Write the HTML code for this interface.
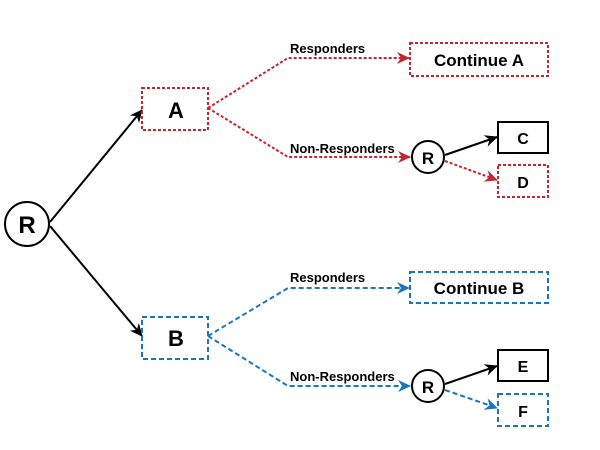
<!DOCTYPE html>
<html><head><style>html,body{margin:0;padding:0;background:#fff}svg{display:block}
text{font-family:"Liberation Sans",sans-serif;font-weight:bold;fill:#000}</style></head>
<body>
<svg width="600" height="450" viewBox="0 0 600 450">
<defs>
<marker id="ak" markerWidth="13" markerHeight="12" refX="12" refY="6" orient="auto" markerUnits="userSpaceOnUse"><path d="M0,0 L13,6 L0,12 L4,6 z" fill="#000"/></marker>
<marker id="ar" markerWidth="13" markerHeight="12" refX="12" refY="6" orient="auto" markerUnits="userSpaceOnUse"><path d="M0,0 L13,6 L0,12 L4,6 z" fill="#c1272d"/></marker>
<marker id="ab" markerWidth="13" markerHeight="12" refX="12" refY="6" orient="auto" markerUnits="userSpaceOnUse"><path d="M0,0 L13,6 L0,12 L4,6 z" fill="#1a75bb"/></marker>
</defs>
<circle cx="27" cy="224" r="22" fill="#fff" stroke="#000" stroke-width="2"/>
<text x="27" y="233" font-size="24" text-anchor="middle">R</text>
<line x1="50" y1="222" x2="142" y2="110" stroke="#000" stroke-width="2" marker-end="url(#ak)"/>
<line x1="50" y1="226" x2="142" y2="336" stroke="#000" stroke-width="2" marker-end="url(#ak)"/>

<g stroke="#c1272d" stroke-width="2" stroke-dasharray="3,2" fill="none">
<rect x="142" y="88" width="66" height="42"/>
<polyline points="208,108 288,58 409,58" marker-end="url(#ar)"/>
<polyline points="208,108 288,157 410,157" marker-end="url(#ar)"/>
<rect x="410" y="43" width="138" height="33"/>
<line x1="445" y1="161" x2="497" y2="180" marker-end="url(#ar)"/>
<rect x="498" y="165" width="50" height="32"/>
</g>
<text x="176" y="118" font-size="22" text-anchor="middle">A</text>
<text x="290" y="53" font-size="13">Responders</text>
<text x="290" y="153" font-size="13">Non-Responders</text>
<text x="479" y="66" font-size="17" text-anchor="middle">Continue A</text>
<circle cx="428" cy="157" r="16" fill="#fff" stroke="#000" stroke-width="2"/>
<text x="428" y="164" font-size="17" text-anchor="middle">R</text>
<line x1="445" y1="155" x2="497" y2="137" stroke="#000" stroke-width="2" marker-end="url(#ak)"/>
<rect x="498" y="122" width="50" height="31" fill="#fff" stroke="#000" stroke-width="2"/>
<text x="523" y="144" font-size="16" text-anchor="middle">C</text>
<text x="523" y="188" font-size="16" text-anchor="middle">D</text>

<g stroke="#1a75bb" stroke-width="2" stroke-dasharray="5,3" fill="none">
<rect x="142" y="317" width="66" height="42"/>
<polyline points="208,336 288,288 409,288" marker-end="url(#ab)"/>
<polyline points="208,336 288,386 410,386" marker-end="url(#ab)"/>
<rect x="410" y="272" width="138" height="31"/>
<line x1="445" y1="390" x2="497" y2="408" marker-end="url(#ab)"/>
<rect x="498" y="394" width="50" height="32"/>
</g>
<text x="176" y="346" font-size="22" text-anchor="middle">B</text>
<text x="290" y="282" font-size="13">Responders</text>
<text x="290" y="381" font-size="13">Non-Responders</text>
<text x="479" y="294" font-size="17" text-anchor="middle">Continue B</text>
<circle cx="428" cy="386" r="16" fill="#fff" stroke="#000" stroke-width="2"/>
<text x="428" y="393" font-size="17" text-anchor="middle">R</text>
<line x1="445" y1="384" x2="497" y2="366" stroke="#000" stroke-width="2" marker-end="url(#ak)"/>
<rect x="498" y="350" width="50" height="31" fill="#fff" stroke="#000" stroke-width="2"/>
<text x="523" y="372" font-size="16" text-anchor="middle">E</text>
<text x="523" y="417" font-size="16" text-anchor="middle">F</text>
</svg>
</body></html>
